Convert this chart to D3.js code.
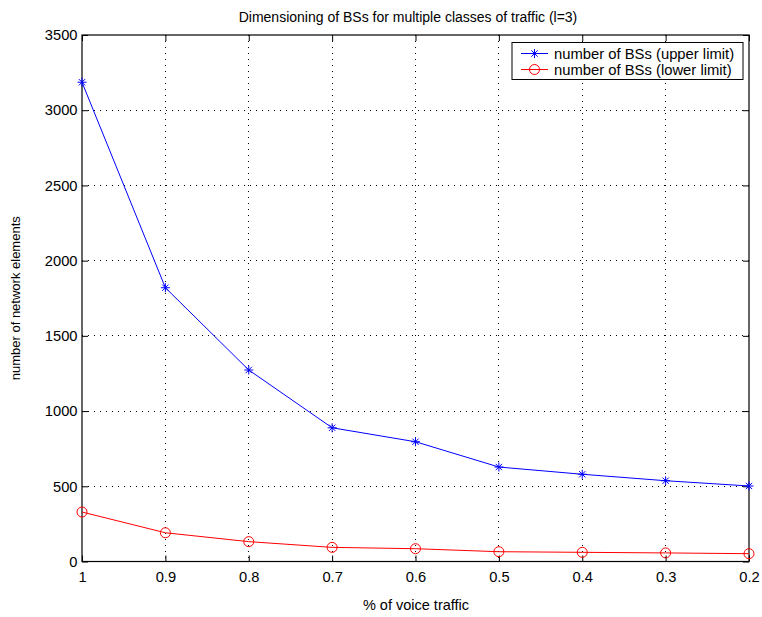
<!DOCTYPE html>
<html>
<head>
<meta charset="utf-8">
<script src="https://cdn.jsdelivr.net/npm/d3@7"></script>
<style>
  body { margin: 0; background: #fff; }
  svg text { font-family: "Liberation Sans", Arial, sans-serif; fill: #000; }
</style>
</head>
<body>
<div id="chart"></div>
<script>
(function(){
    // data
    var voiceShare = [1, 0.9, 0.8, 0.7, 0.6, 0.5, 0.4, 0.3, 0.2];
    var upperLimit = [3186, 1820, 1273, 889, 796, 628, 580, 537, 502];
    var lowerLimit = [329, 191, 132, 94, 85, 65, 61, 57, 52];
    var xTicks = [1, 0.9, 0.8, 0.7, 0.6, 0.5, 0.4, 0.3, 0.2];
    var yTicks = [0, 500, 1000, 1500, 2000, 2500, 3000, 3500];
    var seriesNames = ['number of BSs (upper limit)', 'number of BSs (lower limit)'];

    var WIDTH = 762, HEIGHT = 617;
    var margin = {left: 82, right: 13, top: 35, bottom: 55.5};
    var w = WIDTH - margin.left - margin.right,
        h = HEIGHT - margin.top - margin.bottom;

    var svg = d3.select('#chart').append('svg')
        .attr('width', WIDTH)
        .attr('height', HEIGHT);

    var x = d3.scaleLinear().domain([1, 0.2]).range([0, w]);
    var y = d3.scaleLinear().domain([0, 3500]).range([h, 0]);

    var g = svg.append('g')
        .attr('transform', 'translate(' + margin.left + ',' + margin.top + ')');

    // dotted grid
    g.append('g').selectAll('line').data(xTicks.slice(1, -1)).enter().append('line')
        .attr('x1', function(d){ return x(d) }).attr('x2', function(d){ return x(d) })
        .attr('y1', 0).attr('y2', h)
        .attr('stroke', '#000').attr('stroke-width', 1)
        .attr('stroke-dasharray', '1,5').attr('shape-rendering', 'crispEdges');
    g.append('g').selectAll('line').data(yTicks.slice(1, -1)).enter().append('line')
        .attr('y1', function(d){ return y(d) }).attr('y2', function(d){ return y(d) })
        .attr('x1', 0).attr('x2', w)
        .attr('stroke', '#000').attr('stroke-width', 1)
        .attr('stroke-dasharray', '1,5').attr('shape-rendering', 'crispEdges');

    // axes, ticks pointing inward on all four sides
    function styleAxis(sel){
        sel.select('.domain').remove();
        sel.selectAll('line').attr('stroke', '#000');
        sel.selectAll('text').style('font-size', '14.7px');
    }
    g.append('g').attr('transform', 'translate(0,' + h + ')')
        .call(d3.axisBottom(x).tickValues(xTicks).tickFormat(d3.format('')).tickSizeInner(-6).tickPadding(10))
        .call(styleAxis);
    g.append('g')
        .call(d3.axisTop(x).tickValues(xTicks).tickSizeInner(-6).tickFormat(''))
        .call(styleAxis);
    g.append('g')
        .call(d3.axisLeft(y).tickValues(yTicks).tickFormat(d3.format('d')).tickSizeInner(-6).tickPadding(4.5))
        .call(styleAxis);
    g.append('g').attr('transform', 'translate(' + w + ',0)')
        .call(d3.axisRight(y).tickValues(yTicks).tickSizeInner(-6).tickFormat(''))
        .call(styleAxis);

    g.append('rect')
        .attr('width', w).attr('height', h)
        .attr('fill', 'none').attr('stroke', '#000').attr('stroke-width', 1.2);

    // lines
    var line = d3.line()
        .x(function(d){ return x(d[0]) })
        .y(function(d){ return y(d[1]) });

    var upper = d3.zip(voiceShare, upperLimit),
        lower = d3.zip(voiceShare, lowerLimit);

    g.append('path').datum(upper).attr('d', line)
        .attr('fill', 'none').attr('stroke', '#0000ff').attr('stroke-width', 1);
    g.append('path').datum(lower).attr('d', line)
        .attr('fill', 'none').attr('stroke', '#ff0000').attr('stroke-width', 1);

    function star(sel, s){
        sel.append('path')
            .attr('d', 'M' + (-s) + ',0H' + s + 'M0,' + (-s) + 'V' + s +
                       'M' + (-s*0.7) + ',' + (-s*0.7) + 'L' + (s*0.7) + ',' + (s*0.7) +
                       'M' + (-s*0.7) + ',' + (s*0.7) + 'L' + (s*0.7) + ',' + (-s*0.7))
            .attr('stroke', '#0000ff').attr('stroke-width', 1).attr('fill', 'none');
    }

    g.append('g').selectAll('g').data(upper).enter().append('g')
        .attr('transform', function(d){ return 'translate(' + x(d[0]) + ',' + y(d[1]) + ')' })
        .call(star, 4.5);

    g.append('g').selectAll('circle').data(lower).enter().append('circle')
        .attr('cx', function(d){ return x(d[0]) })
        .attr('cy', function(d){ return y(d[1]) })
        .attr('r', 5)
        .attr('fill', 'none').attr('stroke', '#ff0000').attr('stroke-width', 1);

    // legend
    var lg = svg.append('g').attr('transform', 'translate(512,42.5)');
    lg.append('rect').attr('width', 231).attr('height', 37)
        .attr('fill', '#fff').attr('stroke', '#000').attr('stroke-width', 1);
    [['#0000ff', 'star'], ['#ff0000', 'circle']].forEach(function(s, i){
        var yy = 11 + i * 16;
        lg.append('line').attr('x1', 9).attr('x2', 36).attr('y1', yy).attr('y2', yy)
            .attr('stroke', s[0]).attr('stroke-width', 1);
        if(s[1] === 'star'){
            lg.append('g').attr('transform', 'translate(22.5,' + yy + ')').call(star, 4.5);
        } else {
            lg.append('circle').attr('cx', 22.5).attr('cy', yy).attr('r', 5)
                .attr('fill', 'none').attr('stroke', s[0]);
        }
        lg.append('text').attr('x', 42).attr('y', yy + 5)
            .style('font-size', '14.8px').text(seriesNames[i]);
    });

    // titles
    svg.append('text').attr('x', 408).attr('y', 22)
        .attr('text-anchor', 'middle').style('font-size', '14px')
        .text('Dimensioning of BSs for multiple classes of traffic (l=3)');
    svg.append('text').attr('x', 416).attr('y', 610)
        .attr('text-anchor', 'middle').style('font-size', '14.5px')
        .text('% of voice traffic');
    svg.append('text')
        .attr('transform', 'translate(20,' + (margin.top + h / 2) + ') rotate(-90)')
        .attr('text-anchor', 'middle').style('font-size', '13px')
        .text('number of network elements');
})();
</script>
</body>
</html>
